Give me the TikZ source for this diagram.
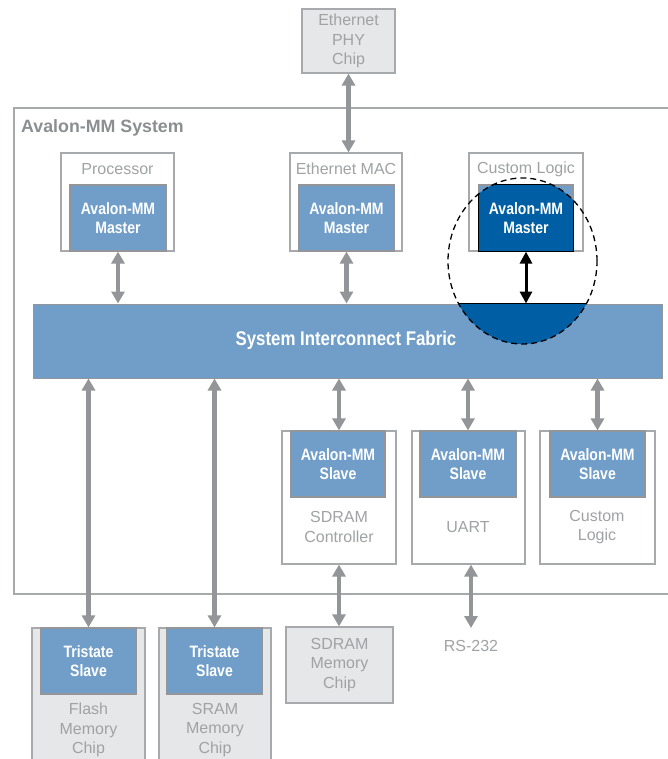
\documentclass[tikz,border=0pt]{standalone}
\usepackage{fontspec}
\setmainfont{Liberation Sans}
\newfontfamily\narrowfont[FakeStretch=0.85]{Liberation Sans}
\usetikzlibrary{arrows.meta,shapes.geometric}

\definecolor{avgray}{RGB}{147,149,152}
\definecolor{avline}{RGB}{167,169,172}
\definecolor{avtext}{RGB}{160,162,165}
\definecolor{avtitle}{RGB}{140,142,145}
\definecolor{avchip}{RGB}{230,231,232}
\definecolor{avblue}{RGB}{112,158,201}
\definecolor{avdark}{RGB}{0,95,164}

\tikzset{
  unit/.style={draw=avline, line width=1.2pt, fill=white, inner sep=0pt},
  chip/.style={unit, fill=avchip},
  port/.style={draw=avgray, line width=1.2pt, fill=avblue, inner sep=0pt, minimum height=66pt,
    text=white, align=center, font=\narrowfont\bfseries\fontsize{16.5}{19}\selectfont},
  lbl/.style={text=avtext, align=center, inner sep=0pt, font=\fontsize{16}{19.5}\selectfont},
  bus/.style={draw=avgray, line width=4.5pt, {Triangle[width=13pt,length=12pt]}-{Triangle[width=13pt,length=12pt]}},
}

\begin{document}
\begin{tikzpicture}[x=1pt, y=-1pt]
\clip (0,0) rectangle (668,759);
\useasboundingbox (0,0) rectangle (668,759);

% system frame
\node (sys) at (357,351) [unit, minimum width=686pt, minimum height=486pt] {};
\node (systitle) at (21,133) [anchor=base west, inner sep=0pt, text=avtitle, font=\bfseries\fontsize{17.8}{20}\selectfont] {Avalon-MM System};

% outside chip on top
\node (phy) at (348.5,41) [chip, minimum width=93pt, minimum height=64pt] {};
\node (phytext) at (348.5,41) [lbl] {Ethernet\\PHY\\Chip};

% masters
\node (proc) at (117.5,202) [unit, minimum width=113pt, minimum height=98pt] {};
\node (proctext) at (117.5,169) [lbl] {Processor};
\node (procm) at (118,218) [port, minimum width=96pt] {Avalon-MM\\Master};

\node (mac) at (346,202) [unit, minimum width=112pt, minimum height=98pt] {};
\node (mactext) at (346,169) [lbl] {Ethernet MAC};
\node (macm) at (346.5,218) [port, minimum width=95pt] {Avalon-MM\\Master};

\node (cust) at (526,202) [unit, minimum width=114pt, minimum height=98pt] {};
\node (custtext) at (526,169) [lbl] {Custom Logic};
\node (custm) at (526,218) [port, minimum width=94pt] {};

% fabric
\node (fabric) at (347.5,341) [draw=avgray, line width=1pt, fill=avblue, minimum width=629pt, minimum height=74pt, inner sep=0pt] {};

% slaves
\node (sdram) at (339,497.5) [unit, minimum width=114pt, minimum height=133pt] {};
\node (sdrams) at (338,464) [port, minimum width=94pt] {Avalon-MM\\Slave};
\node (sdramtext) at (339,527) [lbl] {SDRAM\\Controller};

\node (uart) at (468.5,497.5) [unit, minimum width=113pt, minimum height=133pt] {};
\node (uarts) at (468,464) [port, minimum width=96pt] {Avalon-MM\\Slave};
\node (uarttext) at (468,527) [lbl] {UART};

\node (logic) at (597.5,497.5) [unit, minimum width=115pt, minimum height=133pt] {};
\node (logics) at (597.5,464) [port, minimum width=95pt] {Avalon-MM\\Slave};
\node (logictext) at (597,527) [lbl] {Custom\\Logic};

% chips below
\node (flash) at (88.5,704) [chip, minimum width=113pt, minimum height=152pt] {};
\node (flashs) at (88.5,661) [port, minimum width=95pt] {Tristate\\Slave};
\node (flashtext) at (88.5,730) [lbl] {Flash\\Memory\\Chip};

\node (sram) at (215,704) [chip, minimum width=112pt, minimum height=152pt] {};
\node (srams) at (214.5,661) [port, minimum width=95pt] {Tristate\\Slave};
\node (sramtext) at (215,730) [lbl] {SRAM\\Memory\\Chip};

\node (sdchip) at (339.5,665) [chip, minimum width=107pt, minimum height=76pt] {};
\node (sdchiptext) at (339.5,665) [lbl] {SDRAM\\Memory\\Chip};

\node (rs) at (471,646) [lbl] {RS-232};
\coordinate (rsend) at (471,628);

% highlighted master port
\node (focus) at (522.5,261) [ellipse, minimum width=149pt, minimum height=166pt, inner sep=0pt] {};
\begin{scope}
\clip (focus.center) ellipse [x radius=74.5pt, y radius=83pt];
\fill[avdark] (custm.north west) rectangle (custm.south east);
\fill[avdark] (fabric.north west) rectangle (fabric.south east);
\draw[black, line width=1.2pt] (custm.north west) rectangle (custm.south east);
\draw[black, line width=1.2pt] (fabric.north west) -- (fabric.north east);
\end{scope}
\node (custmtext) at (custm) [port, draw=none, fill=none] {Avalon-MM\\Master};
\node (fabrictext) at (346,340) [text=white, inner sep=0pt, font=\narrowfont\bfseries\fontsize{19.8}{22}\selectfont] {System Interconnect Fabric};

% connections
\draw [bus] (phy.south) -- (phy.south |- mac.north);
\draw [bus] (procm.south) -- (procm.south |- fabric.north);
\draw [bus] (macm.south) -- (macm.south |- fabric.north);
\draw [black, line width=3pt, {Triangle[width=12pt,length=12pt]}-{Triangle[width=12pt,length=12pt]}] (custm.south) -- (custm.south |- fabric.north);

\draw [bus] (flashs.north |- fabric.south) -- (flashs.north);
\draw [bus] (srams.north |- fabric.south) -- (srams.north);
\draw [bus] (sdram.north |- fabric.south) -- (sdram.north);
\draw [bus] (uarts.north |- fabric.south) -- (uarts.north);
\draw [bus] (logic.north |- fabric.south) -- (logic.north);

\draw [bus] (sdram.south) -- (sdram.south |- sdchip.north);
\draw [bus] (rsend |- uart.south) -- (rsend);

\draw [dashed, dash pattern=on 6pt off 4pt, line width=1.3pt] (focus.center) ellipse [x radius=74.5pt, y radius=83pt];
%\node (focus) [draw, dashed] {};
\end{tikzpicture}
\end{document}
